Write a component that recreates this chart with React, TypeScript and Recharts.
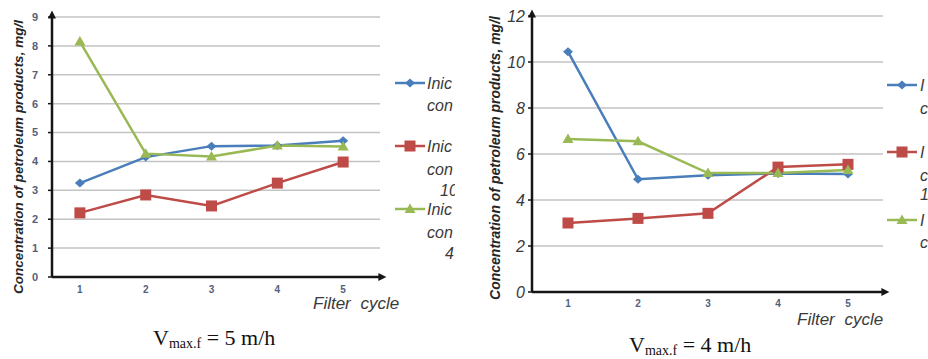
import React from "react";
import { LineChart, Line, XAxis, YAxis, CartesianGrid } from "recharts";

// filter cycles on the x axis
const CYCLES = [1, 2, 3, 4, 5];

// V max.f = 5 m/h
const BLUE_5 = [3.25, 4.15, 4.53, 4.55, 4.72];
const RED_5 = [2.22, 2.84, 2.46, 3.25, 3.98];
const GREEN_5 = [8.15, 4.27, 4.17, 4.55, 4.52];
const TICKS_5 = [0, 1, 2, 3, 4, 5, 6, 7, 8, 9];

// V max.f = 4 m/h
const BLUE_4 = [10.45, 4.9, 5.08, 5.15, 5.13];
const RED_4 = [3.0, 3.2, 3.42, 5.43, 5.55];
const GREEN_4 = [6.65, 6.55, 5.17, 5.17, 5.3];
const TICKS_4 = [0, 2, 4, 6, 8, 10, 12];

const Y_TITLE = "Concentration of petroleum products, mg/l";
const X_TITLE = "Filter cycle";
// legend text is cut off by the panel edge in the source, only these parts show
const LEGEND_HEAD = "Inic";
const LEGEND_SUB = "con";
const LEGEND_RED = "10";
const LEGEND_GREEN = "4";

const BLUE = "#4a7ebb";
const RED = "#be4b48";
const GREEN = "#98b954";
const AXIS = "#151515";
const SANS = "'Liberation Sans', Arial, sans-serif";
const SERIF = "'Liberation Serif', 'Times New Roman', serif";

const toRows = (b: number[], r: number[], g: number[]) =>
  CYCLES.map((cycle, i) => ({ cycle, blue: b[i], red: r[i], green: g[i] }));

const data5 = toRows(BLUE_5, RED_5, GREEN_5);
const data4 = toRows(BLUE_4, RED_4, GREEN_4);

const diamondPath = (cx: number, cy: number) =>
  `M${cx},${cy - 4.5} L${cx + 5},${cy} L${cx},${cy + 4.5} L${cx - 5},${cy} Z`;
const trianglePath = (cx: number, cy: number) =>
  `M${cx},${cy - 5.5} L${cx + 5.5},${cy + 4} L${cx - 5.5},${cy + 4} Z`;

const DiamondDot = (props: any) => {
  const { cx, cy, index } = props;
  if (cx == null || cy == null) return <g key={index} />;
  return <path key={index} d={diamondPath(cx, cy)} fill={BLUE} />;
};

const SquareDot = (props: any) => {
  const { cx, cy, index } = props;
  if (cx == null || cy == null) return <g key={index} />;
  return <rect key={index} x={cx - 5.5} y={cy - 5.5} width={11} height={11} fill={RED} />;
};

const TriangleDot = (props: any) => {
  const { cx, cy, index } = props;
  if (cx == null || cy == null) return <g key={index} />;
  return <path key={index} d={trianglePath(cx, cy)} fill={GREEN} />;
};

const series = [
  { key: "blue", color: BLUE, dot: DiamondDot },
  { key: "red", color: RED, dot: SquareDot },
  { key: "green", color: GREEN, dot: TriangleDot },
];

interface PanelProps {
  data: any[];
  ticks: number[];
  left: number;
  width: number;
  margin: { top: number; right: number; bottom: number; left: number };
  xHeight: number;
  xDomain: [number, number];
  yTick: any;
  yTickMargin: number;
  xTickMargin: number;
}

const Panel = ({ data, ticks, left, width, margin, xHeight, xDomain, yTick, yTickMargin, xTickMargin }: PanelProps) => (
  <div style={{ position: "absolute", left, top: 0 }}>
    <LineChart width={width} height={359} data={data} margin={margin}>
      <CartesianGrid vertical={false} stroke="#c3c3c3" strokeWidth={1.5} />
      <XAxis
        dataKey="cycle"
        type="number"
        domain={xDomain}
        ticks={CYCLES}
        height={xHeight}
        tickLine={false}
        tickSize={0}
        tickMargin={xTickMargin}
        axisLine={{ stroke: AXIS, strokeWidth: 2.5, markerEnd: "url(#axisArrow)" }}
        tick={{ fill: "#55607a", fontSize: 10, fontWeight: 700, fontFamily: SANS }}
      />
      <YAxis
        type="number"
        domain={[ticks[0], ticks[ticks.length - 1]]}
        ticks={ticks}
        width={52}
        tickSize={4}
        tickMargin={yTickMargin}
        tickLine={{ stroke: AXIS, strokeWidth: 1.5 }}
        axisLine={{ stroke: AXIS, strokeWidth: 2.5, markerStart: "url(#axisArrow)" }}
        tick={yTick}
      />
      {series.map((s) => (
        <Line
          key={s.key}
          dataKey={s.key}
          stroke={s.color}
          strokeWidth={2.5}
          dot={s.dot}
          activeDot={false}
          isAnimationActive={false}
        />
      ))}
    </LineChart>
  </div>
);

const LegendGlyph = ({ x, y, color, kind }: any) => {
  const cx = x + 15;
  return (
    <g>
      <line x1={x} y1={y} x2={x + 30} y2={y} stroke={color} strokeWidth={2.5} />
      {kind === "diamond" && <path d={diamondPath(cx, y)} fill={color} />}
      {kind === "square" && <rect x={cx - 5.5} y={y - 5.5} width={11} height={11} fill={color} />}
      {kind === "triangle" && <path d={trianglePath(cx, y)} fill={color} />}
    </g>
  );
};

const legendText = { fontFamily: SANS, fontSize: 16, fontStyle: "italic" as const, fill: "#3a3a3a" };

const Legend = ({ x, tx, clipId, rows }: any) => (
  <g clipPath={clipId ? `url(#${clipId})` : undefined}>
    {rows.map((r: any) => (
      <g key={r.kind}>
        <LegendGlyph x={x} y={r.y} color={r.color} kind={r.kind} />
        {r.lines.map((l: any, i: number) => (
          <text key={i} x={tx + (l.dx || 0)} y={l.y} dominantBaseline="central" style={legendText}>
            {l.t}
          </text>
        ))}
      </g>
    ))}
  </g>
);

const Caption = ({ x, y, value }: any) => (
  <text x={x} y={y} fontFamily={SERIF} fontSize={22} fill="#111">
    <tspan>V</tspan>
    <tspan fontSize={14} dy={3}>max.f</tspan>
    <tspan dy={-3}>{` = ${value} m/h`}</tspan>
  </text>
);

const yTitleStyle = { fontFamily: SANS, fontWeight: 700, fontStyle: "italic" as const, fill: "#262626" };

export default function App() {
  return (
    <div
      style={{
        position: "fixed",
        left: 0,
        top: 0,
        width: 928,
        height: 359,
        overflow: "hidden",
        background: "#fff",
      }}
    >
      <svg width={0} height={0} style={{ position: "absolute" }}>
        <defs>
          <marker
            id="axisArrow"
            viewBox="0 0 10 10"
            refX={2}
            refY={5}
            markerWidth={9}
            markerHeight={8}
            markerUnits="userSpaceOnUse"
            orient="auto-start-reverse"
          >
            <path d="M0,0 L10,5 L0,10 z" fill={AXIS} />
          </marker>
        </defs>
      </svg>

      <Panel
        data={data5}
        ticks={TICKS_5}
        left={0}
        width={460}
        margin={{ top: 17, right: 80, bottom: 0, left: 0 }}
        xHeight={82}
        xDomain={[0.576, 5.56]}
        yTickMargin={10}
        xTickMargin={9}
        yTick={{ fill: "#55607a", fontSize: 11, fontWeight: 700, fontFamily: SANS }}
      />
      <Panel
        data={data4}
        ticks={TICKS_4}
        left={480}
        width={448}
        margin={{ top: 16, right: 45, bottom: 0, left: 0 }}
        xHeight={67}
        xDomain={[0.486, 5.5]}
        yTickMargin={3}
        xTickMargin={8}
        yTick={{ fill: "#3a3a3a", fontSize: 16, fontStyle: "italic", fontFamily: SANS }}
      />

      <svg width={928} height={359} style={{ position: "absolute", left: 0, top: 0, pointerEvents: "none" }}>
        <defs>
          <clipPath id="leftLegendClip">
            <rect x={380} y={0} width={75} height={359} />
          </clipPath>
        </defs>

        <text x={18} y={157} transform="rotate(-90 18 157)" textAnchor="middle" dominantBaseline="central" fontSize={13.5} style={yTitleStyle}>
          {Y_TITLE}
        </text>
        <text x={495} y={158} transform="rotate(-90 495 158)" textAnchor="middle" dominantBaseline="central" fontSize={14} style={yTitleStyle}>
          {Y_TITLE}
        </text>

        <text x={313} y={303} dominantBaseline="central" fontFamily={SANS} fontSize={17} fontStyle="italic" fill="#3a3a3a" wordSpacing={5}>
          {X_TITLE}
        </text>
        <text x={797} y={319} dominantBaseline="central" fontFamily={SANS} fontSize={17} fontStyle="italic" fill="#3a3a3a" wordSpacing={5}>
          {X_TITLE}
        </text>

        <Legend
          x={395}
          tx={427}
          clipId="leftLegendClip"
          rows={[
            { kind: "diamond", color: BLUE, y: 83, lines: [{ t: LEGEND_HEAD, y: 83 }, { t: LEGEND_SUB, y: 105 }] },
            {
              kind: "square",
              color: RED,
              y: 146,
              lines: [{ t: LEGEND_HEAD, y: 146 }, { t: LEGEND_SUB, y: 169 }, { t: LEGEND_RED, y: 190, dx: 13 }],
            },
            {
              kind: "triangle",
              color: GREEN,
              y: 209,
              lines: [{ t: LEGEND_HEAD, y: 209 }, { t: LEGEND_SUB, y: 232 }, { t: LEGEND_GREEN, y: 253, dx: 18 }],
            },
          ]}
        />
        <Legend
          x={887}
          tx={920}
          rows={[
            { kind: "diamond", color: BLUE, y: 85, lines: [{ t: "I", y: 85 }, { t: "c", y: 108 }] },
            {
              kind: "square",
              color: RED,
              y: 152,
              lines: [{ t: "I", y: 152 }, { t: "c", y: 175 }, { t: "1", y: 194, dx: 0 }],
            },
            {
              kind: "triangle",
              color: GREEN,
              y: 220,
              lines: [{ t: "I", y: 220 }, { t: "c", y: 242 }],
            },
          ]}
        />

        <Caption x={153} y={345} value={5} />
        <Caption x={629} y={352} value={4} />
      </svg>
    </div>
  );
}
